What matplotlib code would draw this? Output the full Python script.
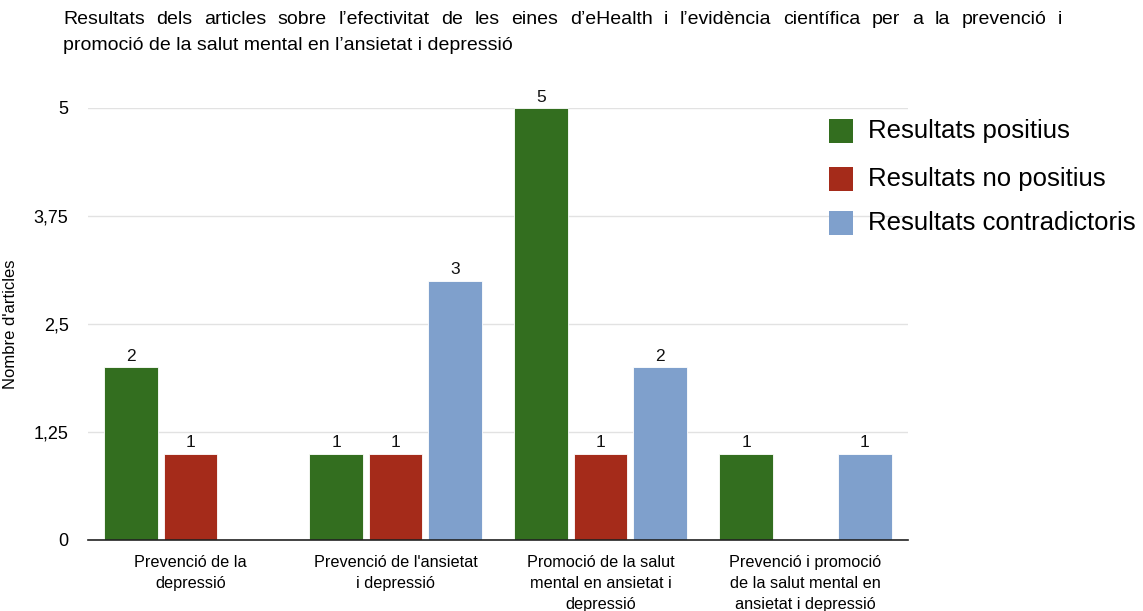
import numpy as np
import matplotlib.pyplot as plt
from matplotlib.patches import Rectangle

categories = ["Prevenció de la\ndepressió",
              "Prevenció de l'ansietat\ni depressió",
              "Promoció de la salut\nmental en ansietat i\ndepressió",
              "Prevenció i promoció\nde la salut mental en\nansietat i depressió"]
series = ["Resultats positius", "Resultats no positius", "Resultats contradictoris"]
positius = [2, 1, 5, 1]
no_positius = [1, 1, 1, 0]
contradictoris = [0, 3, 2, 1]
colors = ["#336E1F", "#A52B1A", "#7FA0CC"]
yticks = [0, 1.25, 2.5, 3.75, 5]
ytick_labels = ["0", "1,25", "2,5", "3,75", "5"]

title1 = "Resultats dels articles sobre l\u2019efectivitat de les eines d\u2019eHealth i l\u2019evidència científica per a la prevenció i"
title2 = "promoció de la salut mental en l\u2019ansietat i depressió"

sans = ["Liberation Sans", "DejaVu Sans"]
W, H = 1143, 611

fig = plt.figure(figsize=(W / 100, H / 100), dpi=100)
ax = fig.add_axes([88 / W, 1 - 540 / H, 820 / W, 432 / H])

x = np.arange(len(categories)) + 0.5
step = 0.29
width = 0.263
for i, (vals, col) in enumerate(zip([positius, no_positius, contradictoris], colors)):
    xs = x + (i - 1) * step
    for xi, v in zip(xs, vals):
        if v == 0:
            continue
        ax.bar(xi, v, width, color=col, edgecolor="white", linewidth=0.6, zorder=3)
        ax.text(xi, v + 0.04, str(v), ha="center", va="bottom", fontsize=12.5,
                family=sans, color="#111111")

ax.set_xlim(0, 4)
ax.set_ylim(0, 5)
ax.set_yticks(yticks)
ax.set_yticklabels(ytick_labels, family=sans, fontsize=13)
ax.set_xticks(x)
ax.set_xticklabels(categories, family=sans, fontsize=11.7, linespacing=1.5, va="top")
ax.tick_params(axis="both", length=0)
ax.tick_params(axis="x", pad=11)
ax.tick_params(axis="y", pad=14)
ax.grid(axis="y", color="#e2e2e2", linewidth=1, zorder=0)
for s in ["top", "right", "left"]:
    ax.spines[s].set_visible(False)
ax.spines["bottom"].set_color("#222222")
ax.spines["bottom"].set_linewidth(1.2)
ax.spines["bottom"].set_zorder(4)
ax.set_ylabel("Nombre d'articles", family=sans, fontsize=12)
ax.yaxis.set_label_coords(-(88 - 18) / 820, 0.5)

# legend entries drawn by hand (uneven spacing)
for lab, col, yc in zip(series, colors, [131, 179, 223]):
    fig.patches.append(Rectangle((829 / W, 1 - (yc + 12) / H), 24 / W, 24 / H,
                                 transform=fig.transFigure, facecolor=col, edgecolor="none"))
    fig.text(868 / W, 1 - yc / H, lab, family=sans, fontsize=18.5, va="center")

# justified first title line
fig.canvas.draw()
r = fig.canvas.get_renderer()
words = title1.split(" ")
x0, x1, ty = 63, 1062, H - 20
texts = [fig.text(0, 0, w, family=sans, fontsize=14, va="center") for w in words]
widths = [t.get_window_extent(r).width for t in texts]
gap = (x1 - x0 - sum(widths)) / (len(words) - 1)
pos = x0
for t, w in zip(texts, widths):
    t.set_position((pos / W, ty / H))
    pos += w + gap
fig.text(63 / W, (H - 46) / H, title2, family=sans, fontsize=14, va="center")

fig.savefig("out.png", dpi=100)
